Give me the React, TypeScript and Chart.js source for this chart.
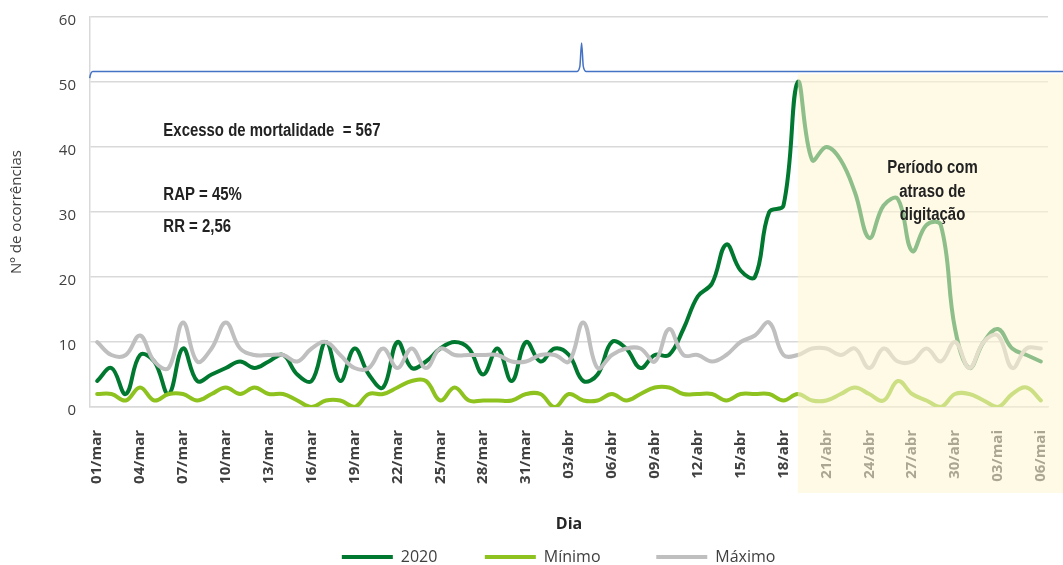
import React, { useEffect, useRef } from 'react';
import { Chart, registerables } from 'chart.js';

Chart.register(...registerables);

const dates = [
  '01/mar', '02/mar', '03/mar', '04/mar', '05/mar', '06/mar', '07/mar', '08/mar', '09/mar', '10/mar',
  '11/mar', '12/mar', '13/mar', '14/mar', '15/mar', '16/mar', '17/mar', '18/mar', '19/mar', '20/mar',
  '21/mar', '22/mar', '23/mar', '24/mar', '25/mar', '26/mar', '27/mar', '28/mar', '29/mar', '30/mar',
  '31/mar', '01/abr', '02/abr', '03/abr', '04/abr', '05/abr', '06/abr', '07/abr', '08/abr', '09/abr',
  '10/abr', '11/abr', '12/abr', '13/abr', '14/abr', '15/abr', '16/abr', '17/abr', '18/abr', '19/abr',
  '20/abr', '21/abr', '22/abr', '23/abr', '24/abr', '25/abr', '26/abr', '27/abr', '28/abr', '29/abr',
  '30/abr', '01/mai', '02/mai', '03/mai', '04/mai', '05/mai', '06/mai',
];

const serie2020 = [
  4, 6, 2, 8, 7, 2, 9, 4, 5, 6,
  7, 6, 7, 8, 5, 4, 10, 4, 9, 5,
  3, 10, 6, 7, 9, 10, 9, 5, 9, 4,
  10, 7, 9, 8, 4, 5, 10, 9, 6, 8,
  8, 12, 17, 19, 25, 21, 20, 30, 31, 50,
  38, 40, 38, 33, 26, 31, 32, 24, 28, 28,
  12, 6, 10, 12, 9, 8, 7,
];

const serieMinimo = [
  2, 2, 1, 3, 1, 2, 2, 1, 2, 3,
  2, 3, 2, 2, 1, 0, 1, 1, 0, 2,
  2, 3, 4, 4, 1, 3, 1, 1, 1, 1,
  2, 2, 0, 2, 1, 1, 2, 1, 2, 3,
  3, 2, 2, 2, 1, 2, 2, 2, 1, 2,
  1, 1, 2, 3, 2, 1, 4, 2, 1, 0,
  2, 2, 1, 0, 2, 3, 1,
];

const serieMaximo = [
  10, 8, 8, 11, 7, 6, 13, 7, 9, 13,
  9, 8, 8, 8, 7, 9, 10, 8, 6, 6,
  9, 6, 9, 6, 9, 8, 8, 8, 8, 7,
  7, 8, 8, 7, 13, 6, 8, 9, 9, 7,
  12, 8, 8, 7, 8, 10, 11, 13, 8, 8,
  9, 9, 8, 9, 6, 9, 7, 7, 9, 7,
  10, 6, 10, 11, 6, 9, 9,
];

const seriesNames = ['2020', 'Mínimo', 'Máximo'];
const seriesColors = ['#00782f', '#8dc21f', '#bfbfbf'];
const legendPadSpaces = [9, 11, 5];

// thin blue guide line of the original (index positions on a hidden linear axis)
const blueLineX = [-0.64, -0.52, -0.3, 33.55, 33.76, 33.88, 34.0, 34.21, 67.55];
const blueLineY = [47.2, 50.6, 51.6, 51.6, 52.4, 56, 52.4, 51.6, 51.6];

const yMin = 0;
const yMax = 60;
const yStep = 10;

const notesLeft = ['Excesso de mortalidade  = 567', 'RAP = 45%', 'RR = 2,56'];
const notesLeftY = [42.5, 32.6, 27.7];
const notesLeftX = 4.63;
const notesPeriodo = ['Período com', 'atraso de', 'digitação'];
const notesPeriodoY = [36.7, 33.1, 29.5];
const notesPeriodoX = 58.42;

const shadeStartIndex = 49;
const shadeTopValue = 51.2;
const shadeBelowAxis = 86;

const noteFont = "bold 18px 'Liberation Sans', Arial, sans-serif";
const noteSqueeze = 0.83;

const overlayPlugin = {
  id: 'periodOverlay',
  afterDraw(chart: any) {
    const { ctx, chartArea, scales } = chart;
    const x = scales.x;
    const y = scales.y;
    const xb = scales.xb;
    const left = x.getPixelForValue(shadeStartIndex);
    const top = y.getPixelForValue(shadeTopValue);
    const bottom = chartArea.bottom + shadeBelowAxis;
    ctx.save();
    ctx.fillStyle = 'rgba(253, 246, 208, 0.56)';
    ctx.fillRect(left, top, chart.width - left, bottom - top);

    ctx.fillStyle = '#222222';
    ctx.font = noteFont;
    ctx.textBaseline = 'middle';
    const drawNote = (t: string, px: number, py: number, align: CanvasTextAlign) => {
      ctx.save();
      ctx.translate(px, py);
      ctx.scale(noteSqueeze, 1);
      ctx.textAlign = align;
      ctx.fillText(t, 0, 0);
      ctx.restore();
    };
    notesLeft.forEach((t, i) => {
      drawNote(t, xb.getPixelForValue(notesLeftX), y.getPixelForValue(notesLeftY[i]), 'left');
    });
    notesPeriodo.forEach((t, i) => {
      drawNote(t, xb.getPixelForValue(notesPeriodoX), y.getPixelForValue(notesPeriodoY[i]), 'center');
    });
    ctx.restore();
  },
};

export default function App() {
  const canvasRef = useRef<HTMLCanvasElement | null>(null);

  useEffect(() => {
    document.body.style.margin = '0';
    const canvas = canvasRef.current;
    if (!canvas) return;
    Chart.defaults.font.family = "'Open Sans', sans-serif";
    Chart.defaults.color = '#404040';

    const seriesData = [serie2020, serieMinimo, serieMaximo];
    const datasets: any[] = seriesNames.map((name, i) => ({
      label: name,
      data: seriesData[i],
      borderColor: seriesColors[i],
      backgroundColor: seriesColors[i],
      borderWidth: 4,
      pointRadius: 0,
      pointHoverRadius: 0,
      tension: 0.4,
      borderCapStyle: 'round',
      borderJoinStyle: 'round',
      fill: false,
      order: 3 - i,
    }));
    datasets.push({
      label: 'guia',
      data: blueLineX.map((v, i) => ({ x: v, y: blueLineY[i] })),
      xAxisID: 'xb',
      borderColor: '#4472c4',
      backgroundColor: '#4472c4',
      borderWidth: 1.5,
      pointRadius: 0,
      cubicInterpolationMode: 'monotone',
      clip: false,
      fill: false,
      order: 0,
    });

    const chart = new Chart(canvas, {
      type: 'line',
      data: { labels: dates, datasets },
      options: {
        responsive: false,
        animation: false,
        layout: { padding: { left: 0, right: 15, top: 17, bottom: -10 } },
        plugins: {
          tooltip: { enabled: false },
          legend: {
            position: 'bottom',
            fullSize: false,
            labels: {
              boxWidth: 51,
              boxHeight: 4,
              padding: 10,
              color: '#404040',
              font: { size: 16 },
              generateLabels: (c: any) =>
                seriesNames.map((name, i) => ({
                  text: name + ' '.repeat(legendPadSpaces[i]),
                  fillStyle: seriesColors[i],
                  strokeStyle: seriesColors[i],
                  lineWidth: 0,
                  hidden: false,
                  datasetIndex: i,
                  fontColor: '#404040',
                })),
            },
          },
        },
        scales: {
          x: {
            type: 'category',
            offset: true,
            grid: { display: false, drawTicks: false },
            border: { display: true, color: '#d9d9d9', width: 1.5 },
            ticks: {
              autoSkip: false,
              maxRotation: 90,
              minRotation: 90,
              padding: 23,
              color: '#404040',
              font: { size: 15, weight: 'bold' },
              callback: (_v: any, i: number) => (i % 3 === 0 ? dates[i] : ''),
            },
            title: {
              display: true,
              text: 'Dia',
              color: '#262626',
              font: { size: 16, weight: 'bold' },
              padding: { top: 0, bottom: 5 },
            },
            afterFit: (s: any) => {
              s.height = 132;
              s.paddingLeft = 0;
              s.paddingRight = 0;
            },
          },
          xb: {
            type: 'linear',
            display: false,
            min: -0.5,
            max: 66.5,
          },
          y: {
            min: yMin,
            max: yMax,
            grid: { color: '#d9d9d9', lineWidth: 1.5, drawTicks: false },
            border: { display: true, color: '#d9d9d9', width: 1.5 },
            ticks: {
              stepSize: yStep,
              padding: 14,
              labelOffset: 4,
              color: '#404040',
              font: { size: 15 },
            },
            title: {
              display: true,
              text: 'Nº de ocorrências',
              color: '#404040',
              font: { size: 15 },
              padding: { top: 8, bottom: 0 },
            },
            afterFit: (s: any) => {
              s.width = 90;
              s.paddingTop = 0;
              s.paddingBottom = 0;
            },
          },
        },
      } as any,
      plugins: [overlayPlugin],
    });

    return () => {
      chart.destroy();
    };
  }, []);

  return (
    <div style={{ width: 1063, height: 565 }}>
      <canvas ref={canvasRef} width={1063} height={565} />
    </div>
  );
}
